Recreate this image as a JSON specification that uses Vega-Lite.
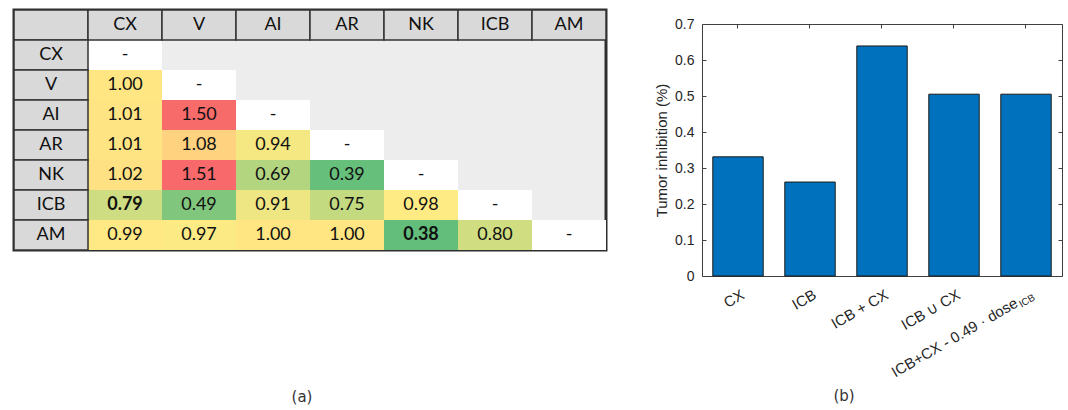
{
  "$schema": "https://vega.github.io/schema/vega-lite/v6.json",
  "padding": {"left": 11, "top": 7, "right": 0, "bottom": 0},
  "background": "white",
  "spacing": 45,
  "config": {"view": {"stroke": null}, "axis": {"grid": false}, "font": "Liberation Sans"},
  "datasets": {
    "headers": [
      {"row": "hdr", "col": "hdr", "label": ""},
      {"row": "hdr", "col": "CX", "label": "CX"},
      {"row": "hdr", "col": "V", "label": "V"},
      {"row": "hdr", "col": "AI", "label": "AI"},
      {"row": "hdr", "col": "AR", "label": "AR"},
      {"row": "hdr", "col": "NK", "label": "NK"},
      {"row": "hdr", "col": "ICB", "label": "ICB"},
      {"row": "hdr", "col": "AM", "label": "AM"},
      {"row": "CX", "col": "hdr", "label": "CX"},
      {"row": "V", "col": "hdr", "label": "V"},
      {"row": "AI", "col": "hdr", "label": "AI"},
      {"row": "AR", "col": "hdr", "label": "AR"},
      {"row": "NK", "col": "hdr", "label": "NK"},
      {"row": "ICB", "col": "hdr", "label": "ICB"},
      {"row": "AM", "col": "hdr", "label": "AM"}
    ],
    "diagonal": [
      {"row": "CX", "col": "CX", "label": "-"},
      {"row": "V", "col": "V", "label": "-"},
      {"row": "AI", "col": "AI", "label": "-"},
      {"row": "AR", "col": "AR", "label": "-"},
      {"row": "NK", "col": "NK", "label": "-"},
      {"row": "ICB", "col": "ICB", "label": "-"},
      {"row": "AM", "col": "AM", "label": "-"}
    ],
    "synergy": [
      {"row": "V", "col": "CX", "value": 1.00, "significant": false},
      {"row": "AI", "col": "CX", "value": 1.01, "significant": false},
      {"row": "AI", "col": "V", "value": 1.50, "significant": false},
      {"row": "AR", "col": "CX", "value": 1.01, "significant": false},
      {"row": "AR", "col": "V", "value": 1.08, "significant": false},
      {"row": "AR", "col": "AI", "value": 0.94, "significant": false},
      {"row": "NK", "col": "CX", "value": 1.02, "significant": false},
      {"row": "NK", "col": "V", "value": 1.51, "significant": false},
      {"row": "NK", "col": "AI", "value": 0.69, "significant": false},
      {"row": "NK", "col": "AR", "value": 0.39, "significant": false},
      {"row": "ICB", "col": "CX", "value": 0.79, "significant": true},
      {"row": "ICB", "col": "V", "value": 0.49, "significant": false},
      {"row": "ICB", "col": "AI", "value": 0.91, "significant": false},
      {"row": "ICB", "col": "AR", "value": 0.75, "significant": false},
      {"row": "ICB", "col": "NK", "value": 0.98, "significant": false},
      {"row": "AM", "col": "CX", "value": 0.99, "significant": false},
      {"row": "AM", "col": "V", "value": 0.97, "significant": false},
      {"row": "AM", "col": "AI", "value": 1.00, "significant": false},
      {"row": "AM", "col": "AR", "value": 1.00, "significant": false},
      {"row": "AM", "col": "NK", "value": 0.38, "significant": true},
      {"row": "AM", "col": "ICB", "value": 0.80, "significant": false}
    ],
    "inhibition": [
      {"treatment": "CX", "inhibition": 0.331},
      {"treatment": "ICB", "inhibition": 0.261},
      {"treatment": "ICB + CX", "inhibition": 0.639},
      {"treatment": "ICB ∪ CX", "inhibition": 0.505},
      {"treatment": "ICB+CX - 0.49 · dose_ICB", "inhibition": 0.505}
    ],
    "subscripts": [
      {"treatment": "ICB+CX - 0.49 · dose_ICB", "sub": "ICB"}
    ]
  },
  "hconcat": [
    {
      "width": 592,
      "height": 240,
      "view": {"fill": "#ededed", "stroke": "#2e2e2e", "strokeWidth": 3},
      "title": {"text": "(a)", "orient": "bottom", "frame": "group", "anchor": "middle", "dx": -8, "offset": 139, "font": "DejaVu Sans", "fontSize": 15, "fontWeight": "normal", "color": "#333333"},
      "encoding": {
        "x": {"field": "col", "type": "nominal", "scale": {"domain": ["hdr", "CX", "V", "AI", "AR", "NK", "ICB", "AM"], "paddingInner": 0, "paddingOuter": 0}, "axis": null},
        "y": {"field": "row", "type": "nominal", "scale": {"domain": ["hdr", "CX", "V", "AI", "AR", "NK", "ICB", "AM"], "paddingInner": 0, "paddingOuter": 0}, "axis": null}
      },
      "layer": [
        {
          "data": {"name": "synergy"},
          "mark": {"type": "rect", "strokeWidth": 0},
          "encoding": {
            "color": {"field": "value", "type": "quantitative", "scale": {"domain": [0.38, 0.98, 1.51], "range": ["#63BE7B", "#FFEB84", "#F8696B"], "interpolate": "rgb"}, "legend": null}
          }
        },
        {
          "data": {"name": "diagonal"},
          "mark": {"type": "rect", "fill": "#ffffff", "strokeWidth": 0}
        },
        {
          "data": {"name": "headers"},
          "mark": {"type": "rect", "fill": "#d9d9d9", "stroke": "#333333", "strokeWidth": 1.5}
        },
        {
          "data": {"name": "headers"},
          "mark": {"type": "text", "font": "Lato", "fontSize": 18, "color": "#111111"},
          "encoding": {"text": {"field": "label"}}
        },
        {
          "data": {"name": "diagonal"},
          "mark": {"type": "text", "font": "Lato", "fontSize": 18, "color": "#111111"},
          "encoding": {"text": {"field": "label"}}
        },
        {
          "data": {"name": "synergy"},
          "transform": [{"filter": "!datum.significant"}],
          "mark": {"type": "text", "font": "Lato", "fontSize": 18, "color": "#111111"},
          "encoding": {"text": {"field": "value", "type": "quantitative", "format": ".2f"}}
        },
        {
          "data": {"name": "synergy"},
          "transform": [{"filter": "datum.significant"}],
          "mark": {"type": "text", "font": "Lato", "fontSize": 18, "fontWeight": "bold", "color": "#111111"},
          "encoding": {"text": {"field": "value", "type": "quantitative", "format": ".2f"}}
        }
      ]
    },
    {
      "width": 360,
      "height": 266,
      "view": {"stroke": null},
      "title": {"text": "(b)", "orient": "bottom", "frame": "group", "anchor": "middle", "dx": -38, "offset": 9, "font": "DejaVu Sans", "fontSize": 15, "fontWeight": "normal", "color": "#333333"},
      "layer": [
        {
          "data": {"name": "inhibition"},
          "mark": {"type": "bar", "fill": "#0072BD", "stroke": "#1a1a1a", "strokeWidth": 1},
          "encoding": {
            "x": {
              "field": "treatment", "type": "nominal",
              "scale": {"domain": ["CX", "ICB", "ICB + CX", "ICB ∪ CX", "ICB+CX - 0.49 · dose_ICB"], "paddingInner": 0.3, "paddingOuter": 0.15},
              "axis": {
                "orient": "bottom", "title": null,
                "labelExpr": "replace(datum.label, '_ICB', '\u00a0\u00a0\u00a0\u00a0\u200b')",
                "labelAngle": -30, "labelAlign": "right", "labelBaseline": "middle",
                "labelOffset": 5, "labelPadding": 21, "labelLimit": 400,
                "labelFont": "Liberation Sans", "labelFontSize": 15, "labelColor": "#262626",
                "ticks": true, "tickSize": -4, "tickColor": "#404040", "tickWidth": 1,
                "domainColor": "#404040", "domainWidth": 1
              }
            },
            "y": {
              "field": "inhibition", "type": "quantitative",
              "scale": {"domain": [0, 0.7], "nice": false, "zero": true, "range": [266, 14]},
              "axis": {
                "orient": "left",
                "title": "Tumor inhibition (%)", "titleFont": "Liberation Sans", "titleFontSize": 15, "titleFontWeight": "normal", "titleColor": "#262626", "titlePadding": 5,
                "values": [0, 0.1, 0.2, 0.3, 0.4, 0.5, 0.6, 0.7], "format": ".1~f",
                "labelFont": "Liberation Sans", "labelFontSize": 14, "labelColor": "#262626", "labelPadding": 12,
                "ticks": true, "tickSize": -4, "tickColor": "#404040", "tickWidth": 1,
                "domainColor": "#404040", "domainWidth": 1
              }
            }
          }
        },
        {
          "data": {"name": "inhibition"},
          "mark": {"type": "bar", "opacity": 0},
          "encoding": {
            "x": {
              "field": "treatment", "type": "nominal",
              "axis": {
                "orient": "top", "labels": false, "title": null, "offset": -14,
                "ticks": true, "tickSize": -4, "tickColor": "#404040", "tickWidth": 1,
                "domainColor": "#404040", "domainWidth": 1
              }
            },
            "y": {
              "field": "inhibition", "type": "quantitative",
              "axis": {
                "orient": "right", "labels": false, "title": null,
                "values": [0, 0.1, 0.2, 0.3, 0.4, 0.5, 0.6, 0.7],
                "ticks": true, "tickSize": -4, "tickColor": "#404040", "tickWidth": 1,
                "domainColor": "#404040", "domainWidth": 1
              }
            }
          }
        },
        {
          "data": {"name": "subscripts"},
          "mark": {"type": "text", "font": "Liberation Sans", "fontSize": 10, "color": "#262626", "angle": -30, "align": "right", "baseline": "middle", "xOffset": 5, "yOffset": 17, "dx": 1, "dy": 5},
          "encoding": {
            "x": {"field": "treatment", "type": "nominal", "axis": null},
            "y": {"datum": 0, "type": "quantitative", "axis": null},
            "text": {"field": "sub"}
          }
        }
      ],
      "resolve": {"axis": {"x": "independent", "y": "independent"}}
    }
  ]
}
